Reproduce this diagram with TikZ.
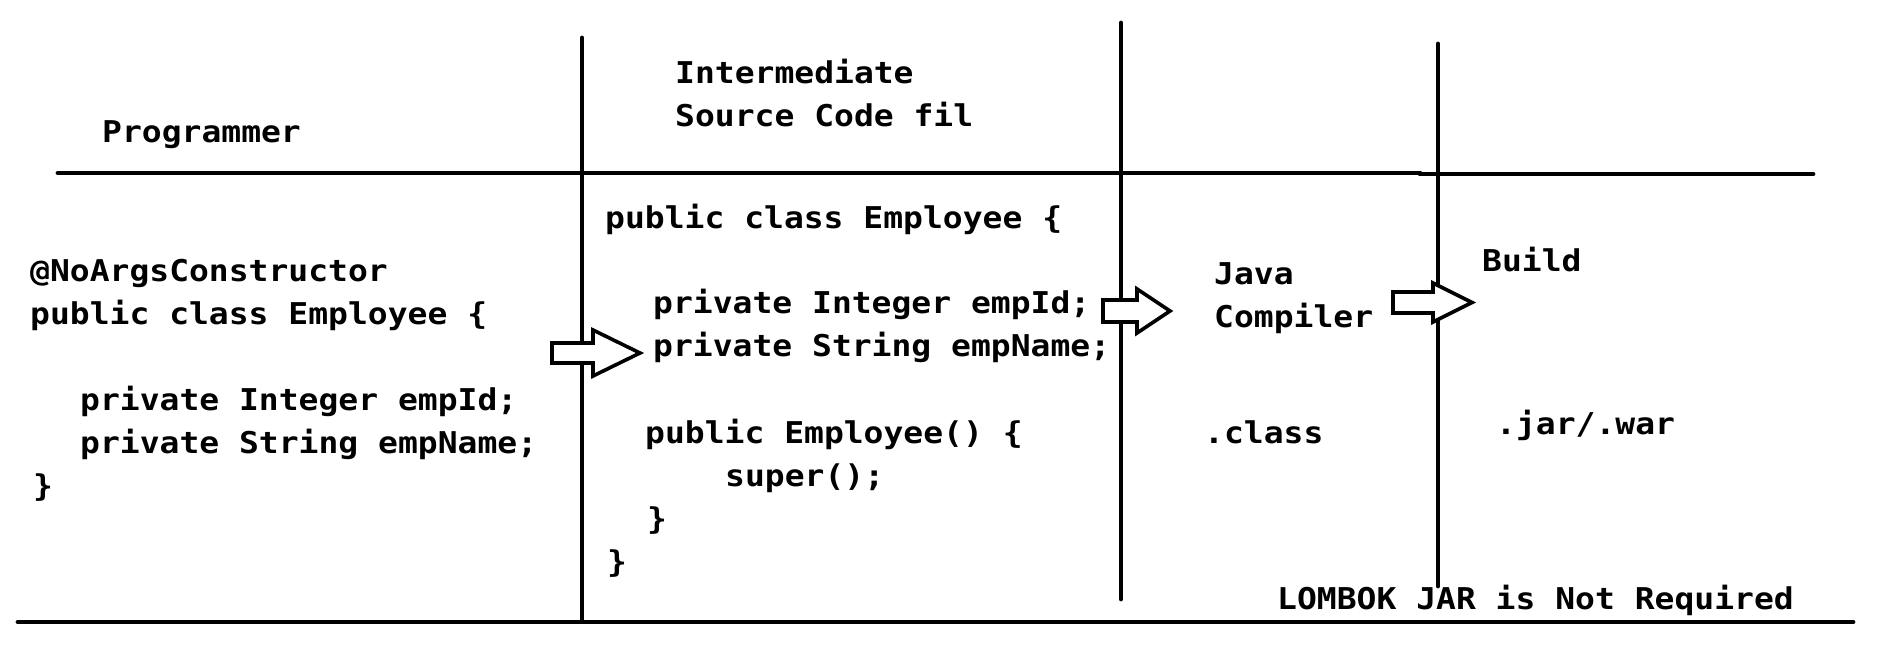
\documentclass[tikz,border=0pt]{standalone}
\usepackage{fontspec}
\newfontfamily\codefont[FakeStretch=1.1]{DejaVu Sans Mono}
\begin{document}
\begin{tikzpicture}[x=1pt,y=-1pt,
  rule/.style={line width=4.8pt, line cap=round},
  code/.style={anchor=base west, inner sep=0pt, font=\codefont\bfseries\fontsize{30}{36}\selectfont},
  blockarrow/.style={draw, fill=white, line width=3.6pt, line join=miter}]
\useasboundingbox (0,0) rectangle (1888,672);
% rules
\draw[rule] (58,173) -- (1420,173);
\draw[rule] (1420,174) -- (1813,174);
\draw[rule] (18,622) -- (1853,622);
\draw[rule] (582,38) -- (582,621);
\draw[rule] (1121,23) -- (1121,599);
\draw[rule] (1438,44) -- (1438,586);
% block arrows
\draw[blockarrow] (552,343) -- (593,343) -- (593,330) -- (640,353) -- (593,376) -- (593,363) -- (552,363) -- cycle;
\draw[blockarrow] (1103,300) -- (1137,300) -- (1137,289) -- (1170,311) -- (1137,333) -- (1137,322) -- (1103,322) -- cycle;
\draw[blockarrow] (1393,292) -- (1433,292) -- (1433,283) -- (1472,302.5) -- (1433,322) -- (1433,313) -- (1393,313) -- cycle;
% column 1
\node[code] (prog) at (102,142) {Programmer};
\node[code] (a1) at (30,281) {@NoArgsConstructor};
\node[code] (a2) at (30,324) {public class Employee \{};
\node[code] (a3) at (80,410) {private Integer empId;};
\node[code] (a4) at (80,453) {private String empName;};
\node[code] (a5) at (33,496) {\}};
% column 2
\node[code] (inter) at (675,83) {Intermediate};
\node[code] (src) at (675,126) {Source Code fil};
\node[code] (b1) at (605,228) {public class Employee \{};
\node[code] (b2) at (653,313) {private Integer empId;};
\node[code] (b3) at (653,356) {private String empName;};
\node[code] (b4) at (645,443) {public Employee() \{};
\node[code] (b5) at (725,486) {super();};
\node[code] (b6) at (647,529) {\}};
\node[code] (b7) at (607,572) {\}};
% column 3
\node[code] (java) at (1214,284) {Java};
\node[code] (comp) at (1214,327) {Compiler};
\node[code] (cls) at (1204,443) {.class};
% column 4
\node[code] (build) at (1482,271) {Build};
\node[code] (jar) at (1496,434) {.jar/.war};
\node[code] (lombok) at (1277,609) {LOMBOK JAR is Not Required};
\end{tikzpicture}
\end{document}
